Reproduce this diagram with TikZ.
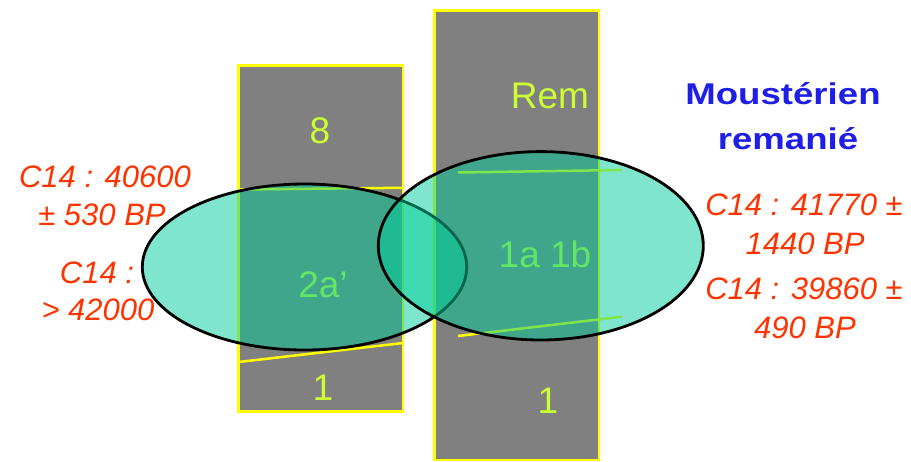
\documentclass[tikz,border=0pt]{standalone}
\usepackage{fontspec}
\setmainfont{Liberation Sans}
\usepackage{xcolor}
\usepackage{tikz}
\definecolor{rock}{HTML}{808080}
\definecolor{rim}{HTML}{FFFF00}
\definecolor{layer}{HTML}{CCFF33}
\definecolor{zonefill}{HTML}{00CC99}
\definecolor{dating}{HTML}{FF3300}
\definecolor{head}{HTML}{1E1EE6}
\tikzset{
  col/.style={fill=rock, draw=rim, line width=2.7pt},
  seam/.style={draw=rim, line width=2.5pt},
  zone/.style={fill=zonefill, fill opacity=0.5, draw=black, line width=2.8pt},
  lyr/.style={text=layer, anchor=base, inner sep=0pt, font=\fontsize{37}{44}\selectfont},
  date/.style={text=dating, anchor=base, inner sep=0pt, font=\fontsize{31}{38}\selectfont\itshape},
  ttl/.style={text=head, anchor=base, inner sep=0pt, xscale=1.22, font=\fontsize{30}{36}\selectfont\bfseries},
}

\begin{document}
\begin{tikzpicture}[x=1pt,y=-1pt]
  \useasboundingbox (0,0) rectangle (911,461);
  % the two sections
  \draw[col] (238.7,65.3) rectangle (403,411.5);
  \draw[col] (434.7,10.3) rectangle (599,460);
  \draw[seam] (238.7,189.5) -- (403,187.8);
  \draw[seam] (238.7,362) -- (403,343);
  \draw[seam] (458,172.5) -- (622,170);
  \draw[seam] (458,336) -- (622,316.7);
  \node[lyr] (l8) at (320,143) {8};
  \node[lyr] (lrem) at (550,108) {Rem};
  \node[lyr] (l2a) at (323,297) {2a’};
  \node[lyr] (l1a) at (545,267) {1a 1b};
  \node[lyr] (l1l) at (323,400) {1};
  \node[lyr] (l1r) at (548,413) {1};
  % sampled zones
  \draw[zone] (304.5,267) ellipse [x radius=162.2, y radius=83];
  \draw[zone] (540.8,245.8) ellipse [x radius=162.5, y radius=94.2];
  % dates
  \node[date] (d1) at (105,187) {C14 : 40600};
  \node[date] (d1b) at (102,225) {± 530 BP};
  \node[date] (d2) at (97,283) {C14 :};
  \node[date] (d2b) at (98,320) {> 42000};
  \node[date] (d3) at (804,215) {C14 : 41770 ±};
  \node[date] (d3b) at (805,254) {1440 BP};
  \node[date] (d4) at (804,299) {C14 : 39860 ±};
  \node[date] (d4b) at (805,338) {490 BP};
  \node[ttl] (t1) at (783,104) {Moustérien};
  \node[ttl] (t2) at (788,149) {remanié};
\end{tikzpicture}
\end{document}
